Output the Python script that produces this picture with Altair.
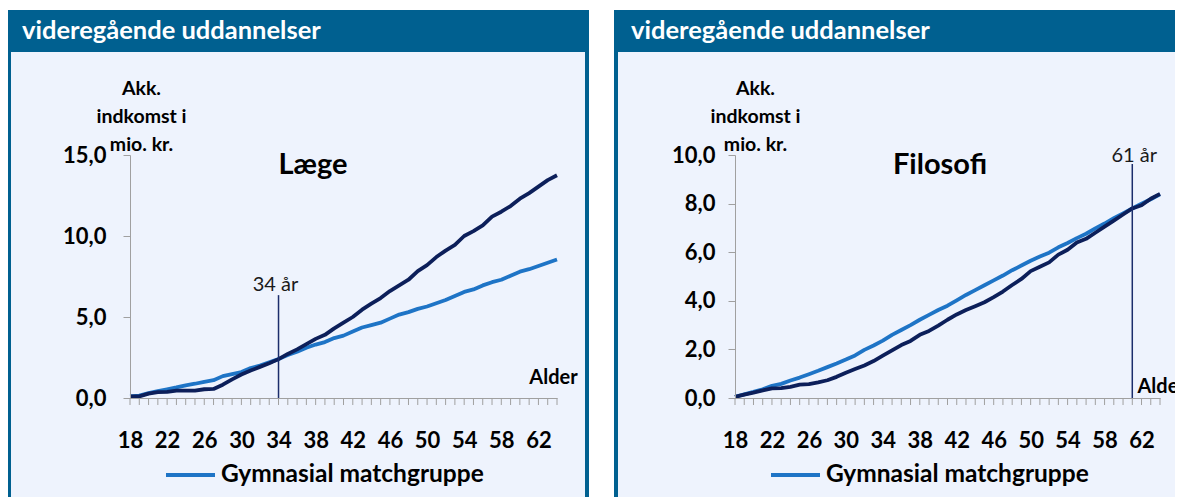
import altair as alt
import pandas as pd

# ---------------- data ----------------
ages = list(range(18, 65))
label_ages = list(range(18, 63, 4))

laege_uddannet = [0.10, 0.10, 0.27, 0.36, 0.38, 0.46, 0.46, 0.46, 0.54, 0.56,
                  0.82, 1.15, 1.45, 1.70, 1.92, 2.15, 2.40, 2.72, 3.00, 3.32,
                  3.65, 3.90, 4.30, 4.65, 5.00, 5.45, 5.82, 6.17, 6.60, 6.95,
                  7.30, 7.83, 8.20, 8.70, 9.10, 9.45, 10.00, 10.30, 10.65, 11.20,
                  11.50, 11.85, 12.30, 12.65, 13.05, 13.45, 13.75]
laege_match = [0.10, 0.15, 0.30, 0.42, 0.54, 0.65, 0.78, 0.88, 1.00, 1.10,
               1.35, 1.48, 1.60, 1.85, 2.00, 2.20, 2.40, 2.65, 2.85, 3.10,
               3.30, 3.45, 3.70, 3.85, 4.10, 4.35, 4.50, 4.65, 4.90, 5.15,
               5.30, 5.50, 5.65, 5.85, 6.05, 6.30, 6.55, 6.70, 6.95, 7.15,
               7.30, 7.55, 7.80, 7.95, 8.15, 8.35, 8.55]
filo_uddannet = [0.05, 0.14, 0.22, 0.31, 0.40, 0.41, 0.46, 0.55, 0.57, 0.64,
                 0.73, 0.87, 1.04, 1.19, 1.34, 1.52, 1.74, 1.96, 2.18, 2.35,
                 2.60, 2.76, 2.98, 3.22, 3.44, 3.62, 3.78, 3.94, 4.15, 4.38,
                 4.65, 4.90, 5.22, 5.40, 5.58, 5.90, 6.10, 6.40, 6.55, 6.80,
                 7.05, 7.30, 7.55, 7.80, 7.93, 8.20, 8.40]
filo_match = [0.05, 0.15, 0.25, 0.36, 0.50, 0.58, 0.72, 0.84, 0.98, 1.12,
              1.27, 1.42, 1.58, 1.75, 1.98, 2.16, 2.36, 2.60, 2.80, 3.00,
              3.22, 3.42, 3.62, 3.80, 4.02, 4.24, 4.44, 4.64, 4.84, 5.04,
              5.26, 5.45, 5.65, 5.82, 5.98, 6.20, 6.38, 6.58, 6.76, 6.98,
              7.18, 7.40, 7.60, 7.80, 8.00, 8.18, 8.38]

panel_titles = ["Læge", "Filosofi"]
header_text = "videregående uddannelser"
y_title = ["Akk.", "indkomst i", "mio. kr."]
x_title = "Alder"
legend_label = "Gymnasial matchgruppe"
marker_ages = [34, 61]
marker_tops = [6.35, 9.63]
marker_label_y = [7.0, 9.94]
marker_labels = ["34 år", "61 år"]
y_max = [15, 10]
y_ticks = [[0, 5, 10, 15], [0, 2, 4, 6, 8, 10]]

# ---------------- style ----------------
FONT = "Lato"
HEADER = "#006090"
BG = "#eef3fd"
DARK = "#0c1f5a"
LIGHT = "#1e74c6"
RULE = "#1b2d6b"
AXIS_GRAY = "#a0a0a0"
H = 243

geo = [
    dict(w=427, fx1=-123, fx2=459, ix1=-119, ix2=455, hx=-108, tx=183,
         ytx=11, xtx=423, xalign="center", xty=-21, lpad=17, mdx=-3, rborder=True),
    dict(w=425, fx1=-121, fx2=440, ix1=-117, ix2=440, hx=-104, tx=205,
         ytx=20, xtx=402, xalign="left", xty=-12, lpad=13, mdx=2, rborder=False),
]


def make_panel(i, uddannet, match):
    g = geo[i]
    one = alt.Data(values=[{"k": 1}])
    df_u = pd.DataFrame({"Alder": ages, "v": uddannet})
    df_m = pd.DataFrame({"Alder": ages, "v": match})
    df_ticks = pd.DataFrame({"Alder": ages})
    df_mark = pd.DataFrame({"Alder": [marker_ages[i]], "v": [0.0],
                            "hi": [marker_tops[i]], "ly": [marker_label_y[i]],
                            "lab": [marker_labels[i]]})

    xs = alt.Scale(domain=[18, 64], nice=False, zero=False)
    ys = alt.Scale(domain=[0, y_max[i]], nice=False)

    x_axis = alt.Axis(
        values=label_ages, format="d",
        labelFont=FONT, labelFontSize=22, labelFontWeight="bold", labelColor="black",
        labelPadding=32, labelFlush=False, labelOverlap=False, ticks=False,
        domainColor=AXIS_GRAY, grid=False, zindex=1,
        title=x_title, titleFont=FONT, titleFontSize=20, titleFontWeight="bold",
        titleColor="black", titleX=g["xtx"], titleY=g["xty"], titleAlign=g["xalign"],
        titleBaseline="middle", titleAngle=0,
    )
    y_axis = alt.Axis(
        values=y_ticks[i], labelExpr="replace(format(datum.value, '.1f'), '.', ',')",
        labelFont=FONT, labelFontSize=22, labelFontWeight="bold", labelColor="black",
        labelPadding=g["lpad"], labelOverlap=False, tickSize=7, tickColor=AXIS_GRAY,
        domainColor=AXIS_GRAY, grid=False, zindex=1,
        title=y_title, titleFont=FONT, titleFontSize=19.5, titleFontWeight="bold",
        titleColor="black", titleAngle=0, titleX=g["ytx"], titleY=-76,
        titleAlign="center", titleBaseline="top", titleLineHeight=28,
    )
    X = alt.X("Alder:Q", scale=xs, axis=x_axis)
    Y = alt.Y("v:Q", scale=ys, axis=y_axis)

    def box(x1, x2, y1, y2, color):
        return alt.Chart(one).mark_rect(color=color).encode(
            x=alt.value(x1), x2=alt.value(x2), y=alt.value(y1), y2=alt.value(y2))

    deco = [
        box(g["ix1"], g["ix2"], -103, 360, BG),          # light panel body
        box(g["fx1"], g["fx2"], -145, -103, HEADER),     # header band
        box(g["fx1"], g["ix1"], -103, 360, HEADER),      # left border
    ]
    if g["rborder"]:
        deco.append(box(g["ix2"], g["fx2"], -103, 360, HEADER))  # right border

    header = alt.Chart(one).mark_text(
        text=header_text, align="left", baseline="middle", font=FONT, fontSize=25.5,
        fontWeight="bold", color="white").encode(x=alt.value(g["hx"]), y=alt.value(-124))
    title = alt.Chart(one).mark_text(
        text=panel_titles[i], align="center", baseline="middle", font=FONT, fontSize=29,
        fontWeight="bold", color="black").encode(x=alt.value(g["tx"]), y=alt.value(10))
    leg_rule = alt.Chart(one).mark_rule(color=LIGHT, strokeWidth=4).encode(
        x=alt.value(36), x2=alt.value(85), y=alt.value(320))
    leg_text = alt.Chart(one).mark_text(
        text=legend_label, align="left", baseline="middle", font=FONT, fontSize=24.5,
        fontWeight="bold", color="black").encode(x=alt.value(91), y=alt.value(320))

    line_m = alt.Chart(df_m).mark_line(color=LIGHT, strokeWidth=3.8, strokeJoin="round").encode(
        x=X, y=Y)
    minor_ticks = alt.Chart(df_ticks).mark_rule(color=AXIS_GRAY, strokeWidth=1).encode(
        x=X, y=alt.value(H), y2=alt.value(H + 7))
    line_u = alt.Chart(df_u).mark_line(color=DARK, strokeWidth=3.8, strokeJoin="round").encode(
        x=X, y=Y)
    rule = alt.Chart(df_mark).mark_rule(color=RULE, strokeWidth=1.5).encode(
        x=X, y=Y, y2="hi:Q")
    mlabel = alt.Chart(df_mark).mark_text(
        font=FONT, fontSize=20, color="#1a1a1a", baseline="middle", dx=g["mdx"]).encode(
        x=X, y=alt.Y("ly:Q", scale=ys, axis=y_axis), text="lab:N")

    return alt.layer(*deco, header, title, leg_rule, leg_text,
                     line_m, minor_ticks, line_u, rule, mlabel).properties(width=g["w"], height=H)


left = make_panel(0, laege_uddannet, laege_match)
right = make_panel(1, filo_uddannet, filo_match)

chart = alt.HConcatChart(hconcat=[left, right], spacing=178, bounds="flush").properties(
    autosize=alt.AutoSizeParams(type="none"),
    padding={"left": 122, "top": 147, "right": 1045, "bottom": 334},
    background="white",
).configure_view(stroke=None)

chart.save("out.html", embed_options={"renderer": "svg", "actions": False})
